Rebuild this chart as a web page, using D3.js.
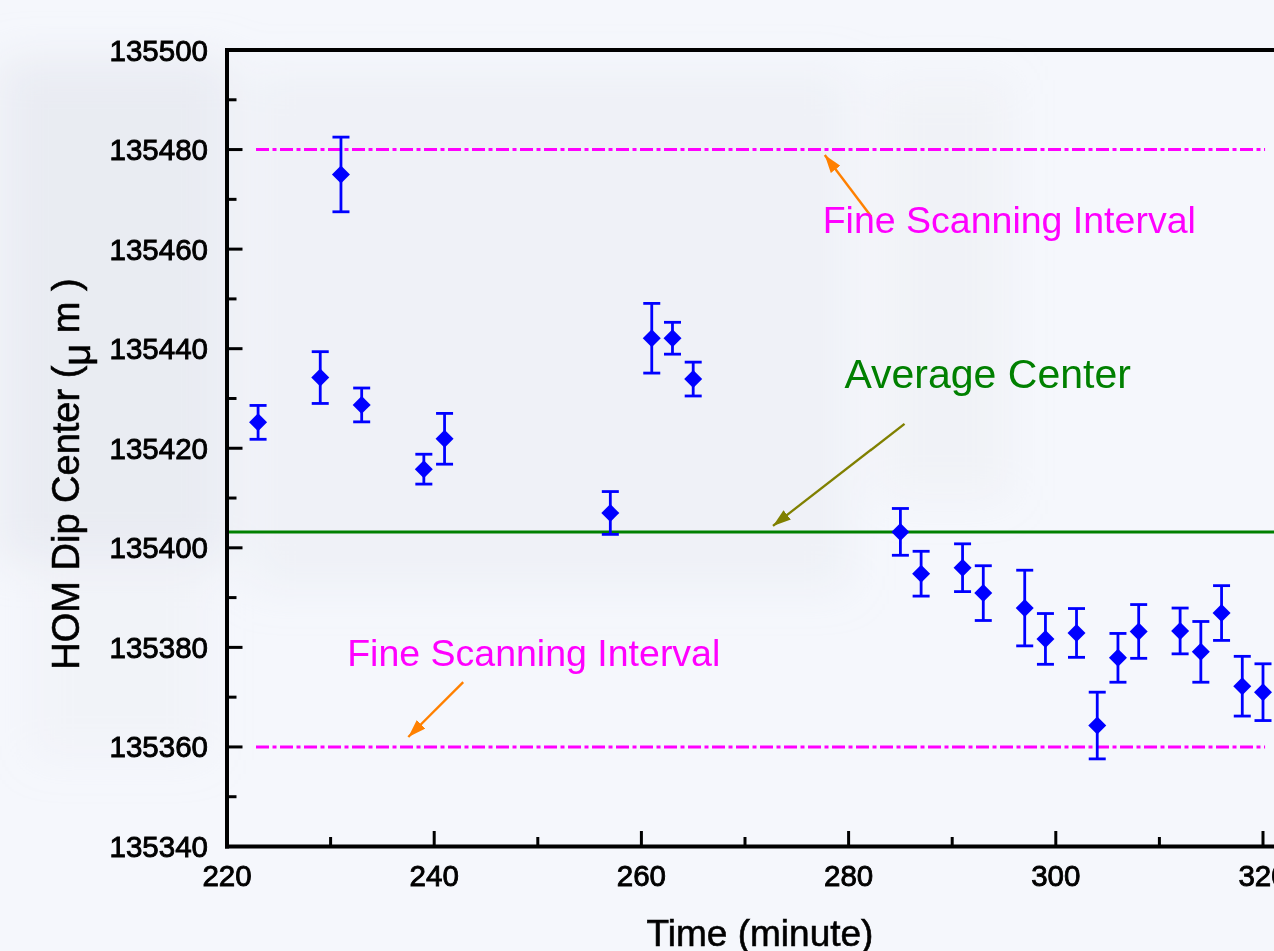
<!DOCTYPE html>
<html>
<head>
<meta charset="utf-8">
<script src="https://cdn.jsdelivr.net/npm/d3@7"></script>
<style>
  html, body { margin: 0; padding: 0; background: #f5f7fc; overflow: hidden; }
  svg { display: block; }
</style>
</head>
<body>
<div id="chart"></div>
<script>
// readings, time in minutes, dip centre in micrometres, error = half bar height
var times  = [223, 229, 231, 233, 239, 241, 257, 261, 263, 265,
              285, 287, 291, 293, 297, 299, 302, 304, 306, 308,
              312, 314, 316, 318, 320];
var centers = [135425.2, 135434.2, 135475.0, 135428.7, 135415.8, 135421.9, 135407.0, 135442.1, 135442.1, 135433.9,
               135403.2, 135394.8, 135396.0, 135390.9, 135387.9, 135381.7, 135382.9, 135364.3, 135377.9, 135383.2,
               135383.3, 135379.1, 135386.9, 135372.2, 135371.0];
var errors = [3.4, 5.2, 7.5, 3.4, 3.0, 5.1, 4.3, 7.0, 3.2, 3.4,
              4.7, 4.5, 4.8, 5.5, 7.6, 5.1, 4.9, 6.7, 4.9, 5.4,
              4.6, 6.1, 5.5, 6.0, 5.7];

var averageCenter = 135403.2;
var intervalBounds = [135480, 135360];
var intervalSpan = [222.8, 320.2];

var xTicks = [220, 240, 260, 280, 300, 320];
var yTicks = [135340, 135360, 135380, 135400, 135420, 135440, 135460, 135480, 135500];

var width = 1274, height = 951;
var font = "'Liberation Sans', Arial, sans-serif";

var x = d3.scaleLinear().domain([220, 330]).range([227, 227 + 110 * 10.36]);
var y = d3.scaleLinear().domain([135340, 135500]).range([846.5, 50]);

var svg = d3.select("#chart").append("svg")
    .attr("width", width)
    .attr("height", height);

// soft blurred backdrop
var defs = svg.append("defs");
defs.append("filter").attr("id", "blur")
    .attr("x", "-50%").attr("y", "-50%").attr("width", "200%").attr("height", "200%")
  .append("feGaussianBlur").attr("stdDeviation", 22);

svg.append("rect").attr("width", width).attr("height", height).attr("fill", "#f5f7fc");
var bg = svg.append("g").attr("filter", "url(#blur)");
[[0, 60, 230, 500, 0.45], [250, 70, 600, 520, 0.22], [880, 80, 130, 420, 0.18], [30, 560, 180, 200, 0.15]]
  .forEach(function (r) {
    bg.append("rect").attr("x", r[0]).attr("y", r[1]).attr("width", r[2]).attr("height", r[3])
      .attr("fill", "#dcdee6").attr("opacity", r[4]);
  });

// arrowheads, drawn in user space
function marker(id, color) {
  defs.append("marker").attr("id", id)
      .attr("viewBox", "0 0 18 12").attr("refX", 18).attr("refY", 6)
      .attr("markerWidth", 18).attr("markerHeight", 12).attr("markerUnits", "userSpaceOnUse")
      .attr("orient", "auto")
    .append("path").attr("d", "M0,0 L18,6 L0,12 Z").attr("fill", color);
}
marker("arrOrange", "#ff8000");
marker("arrOlive", "#808000");

// reference lines
svg.append("line")
    .attr("x1", x(220)).attr("x2", width)
    .attr("y1", y(averageCenter)).attr("y2", y(averageCenter))
    .attr("stroke", "#008000").attr("stroke-width", 3);

intervalBounds.forEach(function (v) {
  svg.append("line")
      .attr("x1", x(intervalSpan[0])).attr("x2", x(intervalSpan[1]))
      .attr("y1", y(v)).attr("y2", y(v))
      .attr("stroke", "#ff00ff").attr("stroke-width", 3)
      .attr("stroke-dasharray", "13,3.5,4,3.5");
});

// axes
var axisG = svg.append("g").attr("stroke", "#000").attr("stroke-linecap", "square");

var xMinor = d3.range(230, 330, 20);
var yMinor = d3.range(135350, 135500, 20);

xTicks.forEach(function (t) {
  axisG.append("line").attr("x1", x(t)).attr("x2", x(t)).attr("y1", y(135340)).attr("y2", y(135340) - 14).attr("stroke-width", 3);
});
xMinor.forEach(function (t) {
  axisG.append("line").attr("x1", x(t)).attr("x2", x(t)).attr("y1", y(135340)).attr("y2", y(135340) - 8).attr("stroke-width", 3);
});
yTicks.forEach(function (t) {
  axisG.append("line").attr("x1", x(220)).attr("x2", x(220) + 14).attr("y1", y(t)).attr("y2", y(t)).attr("stroke-width", 3);
});
yMinor.forEach(function (t) {
  axisG.append("line").attr("x1", x(220)).attr("x2", x(220) + 8).attr("y1", y(t)).attr("y2", y(t)).attr("stroke-width", 3);
});

axisG.append("line").attr("x1", x(220)).attr("x2", width + 5).attr("y1", y(135340)).attr("y2", y(135340)).attr("stroke-width", 4);
axisG.append("line").attr("x1", x(220)).attr("x2", width + 5).attr("y1", y(135500)).attr("y2", y(135500)).attr("stroke-width", 4);
axisG.append("line").attr("x1", x(220)).attr("x2", x(220)).attr("y1", y(135340)).attr("y2", y(135500)).attr("stroke-width", 4);

svg.selectAll(".xlab").data(xTicks).enter().append("text")
    .attr("x", function (d) { return x(d); })
    .attr("y", 886)
    .attr("text-anchor", "middle")
    .attr("font-family", font).attr("font-size", 29.5)
    .attr("stroke", "#000").attr("stroke-width", 0.9)
    .text(function (d) { return d; });

svg.selectAll(".ylab").data(yTicks).enter().append("text")
    .attr("x", 208)
    .attr("y", function (d) { return y(d) + 10.5; })
    .attr("text-anchor", "end")
    .attr("font-family", font).attr("font-size", 29.5)
    .attr("stroke", "#000").attr("stroke-width", 0.9)
    .text(function (d) { return d; });

// axis titles
svg.append("text")
    .attr("x", 760).attr("y", 946)
    .attr("text-anchor", "middle")
    .attr("font-family", font).attr("font-size", 37)
    .attr("stroke", "#000").attr("stroke-width", 0.6)
    .text("Time (minute)");

var yt = svg.append("text")
    .attr("transform", "translate(79,474) rotate(-90)")
    .attr("text-anchor", "middle")
    .attr("font-family", font).attr("font-size", 38)
    .attr("stroke", "#000").attr("stroke-width", 0.6);
yt.append("tspan").text("HOM Dip Center (");
yt.append("tspan").attr("dy", 11).text("\u03bc");
yt.append("tspan").attr("dy", -11).text(" m )");

// error bars and diamonds
var pts = times.map(function (t, i) { return { t: t, v: centers[i], e: errors[i] }; });
var eb = svg.append("g").attr("stroke", "#0000ff").attr("stroke-width", 2.8).attr("fill", "none");
pts.forEach(function (d) {
  var cx = x(d.t), top = y(d.v + d.e), bot = y(d.v - d.e);
  eb.append("line").attr("x1", cx).attr("x2", cx).attr("y1", top).attr("y2", bot);
  eb.append("line").attr("x1", cx - 8.5).attr("x2", cx + 8.5).attr("y1", top).attr("y2", top);
  eb.append("line").attr("x1", cx - 8.5).attr("x2", cx + 8.5).attr("y1", bot).attr("y2", bot);
});
svg.append("g").selectAll("path").data(pts).enter().append("path")
    .attr("d", function (d) {
      var cx = x(d.t), cy = y(d.v), r = 9;
      return "M" + cx + "," + (cy - r) + "L" + (cx + r) + "," + cy + "L" + cx + "," + (cy + r) + "L" + (cx - r) + "," + cy + "Z";
    })
    .attr("fill", "#0000ff");

// annotations (positions in data units)
var notes = [
  { text: "Fine Scanning Interval", tx: 277.5, ty: 135463.3, size: 37.5, color: "#ff00ff",
    from: [282.2, 135466.5], to: [277.7, 135478.9], arrow: "#ff8000", marker: "arrOrange" },
  { text: "Fine Scanning Interval", tx: 231.6, ty: 135376.3, size: 37.5, color: "#ff00ff",
    from: [242.8, 135373.0], to: [237.5, 135362.0], arrow: "#ff8000", marker: "arrOrange" },
  { text: "Average Center", tx: 279.6, ty: 135432.1, size: 41, color: "#008000",
    from: [285.4, 135424.9], to: [272.7, 135404.4], arrow: "#808000", marker: "arrOlive" }
];
notes.forEach(function (n) {
  svg.append("line")
      .attr("x1", x(n.from[0])).attr("y1", y(n.from[1]))
      .attr("x2", x(n.to[0])).attr("y2", y(n.to[1]))
      .attr("stroke", n.arrow).attr("stroke-width", 2.4)
      .attr("marker-end", "url(#" + n.marker + ")");
  svg.append("text")
      .attr("x", x(n.tx)).attr("y", y(n.ty))
      .attr("font-family", font).attr("font-size", n.size)
      .attr("fill", n.color)
      .text(n.text);
});
</script>
</body>
</html>
